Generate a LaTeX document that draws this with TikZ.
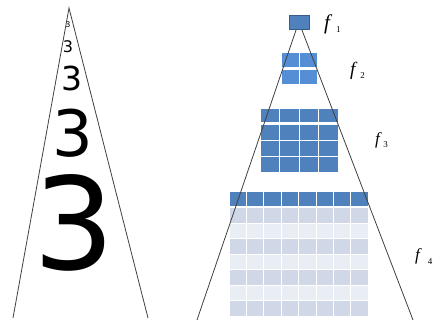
\documentclass[tikz,border=0pt]{standalone}
\usepackage{fontspec}
\newfontfamily\digitfont{DejaVu Sans}
\newfontfamily\labelfont{Liberation Serif}
\definecolor{TopBlue}{HTML}{4F81BD}
\definecolor{EdgeBlue}{HTML}{385D8A}
\definecolor{LightBlue}{HTML}{558ED5}
\definecolor{BandDark}{HTML}{D0D8E8}
\definecolor{BandLight}{HTML}{E9EDF4}

\begin{document}
\begin{tikzpicture}[
  x=1pt, y=-1pt,
  cone/.style={draw=black!75, line width=0.8pt},
  cell/.style={draw=white, line width=1pt},
  digit/.style={anchor=base, inner sep=0pt, font=\digitfont},
  flabel/.style={anchor=base west, inner sep=0pt, font=\labelfont\itshape\fontsize{17}{17}\selectfont},
]
\useasboundingbox (0,0) rectangle (440,320);

%% ---- left: the same digit, doubling in size ----
\node[digit, font=\digitfont\fontsize{8}{8}\selectfont]    (d1) at (68,28)  {3};
\node[digit, font=\digitfont\fontsize{16}{16}\selectfont]  (d2) at (68,53)  {3};
\node[digit, font=\digitfont\fontsize{33}{33}\selectfont]  (d3) at (72,91)  {3};
\node[digit, font=\digitfont\fontsize{64}{64}\selectfont]  (d4) at (73,157) {3};
\node[digit, font=\digitfont\fontsize{128}{128}\selectfont] (d5) at (74,270) {3};

\coordinate (apexL)  at (69,8);
\coordinate (baseLL) at (13,318);
\coordinate (baseLR) at (148,318);
\draw[cone] (baseLL) -- (apexL) -- (baseLR);

%% ---- right: feature maps, top row split off ----
%% f2 : 2 x 2
\foreach \c in {0,1} {
  \draw[cell, fill=LightBlue] (281+18*\c,53) rectangle ++(18,15);
  \draw[cell, fill=LightBlue] (281+18*\c,69.5) rectangle ++(18,15);
}
%% f3 : 4 x 4
\foreach \c in {0,...,3} {
  \draw[cell, fill=TopBlue] (260+19.5*\c,109) rectangle ++(19.5,14);
  \foreach \r in {0,1,2}
    \draw[cell, fill=TopBlue] (260+19.5*\c,125+15.67*\r) rectangle ++(19.5,15.67);
}
%% f4 : 8 columns, banded body
\foreach \c in {0,...,7} {
  \draw[cell, fill=TopBlue] (229+17.4*\c,192) rectangle ++(17.4,15);
  \foreach \r in {0,...,6} {
    \pgfmathsetmacro\band{mod(\r,2)==0 ? "BandDark" : "BandLight"}
    \draw[cell, fill=\band] (229+17.4*\c,208+15.43*\r) rectangle ++(17.4,15.43);
  }
}
%% f1 : single unit
\node[draw=EdgeBlue, fill=TopBlue, line width=1.3pt, minimum width=20pt,
      minimum height=14pt, inner sep=0pt] (f1box) at (299.5,22.5) {};

\coordinate (baseRL) at (197,320);
\coordinate (baseRR) at (413,320);
\draw[cone] ([xshift=-3.5pt]f1box.south) -- (baseRL);
\draw[cone] ([xshift=2.5pt]f1box.south) -- (baseRR);

%% ---- labels ----
\node[flabel, font=\labelfont\itshape\fontsize{21}{21}\selectfont] (lab1) at (324,29.5)
  {f\hspace{6pt}\raisebox{-3.5pt}{\upshape\fontsize{9}{9}\selectfont 1}};
\node[flabel, font=\labelfont\itshape\fontsize{19}{19}\selectfont] (lab2) at (350,76)
  {f\hspace{5pt}\raisebox{-3pt}{\upshape\fontsize{9}{9}\selectfont 2}};
\node[flabel] (lab3) at (375,145)
  {f\hspace{3.5pt}\raisebox{-3pt}{\upshape\fontsize{9}{9}\selectfont 3}};
\node[flabel] (lab4) at (415,261)
  {f\hspace{8pt}\raisebox{-4pt}{\upshape\fontsize{9}{9}\selectfont 4}};
\end{tikzpicture}
\end{document}
